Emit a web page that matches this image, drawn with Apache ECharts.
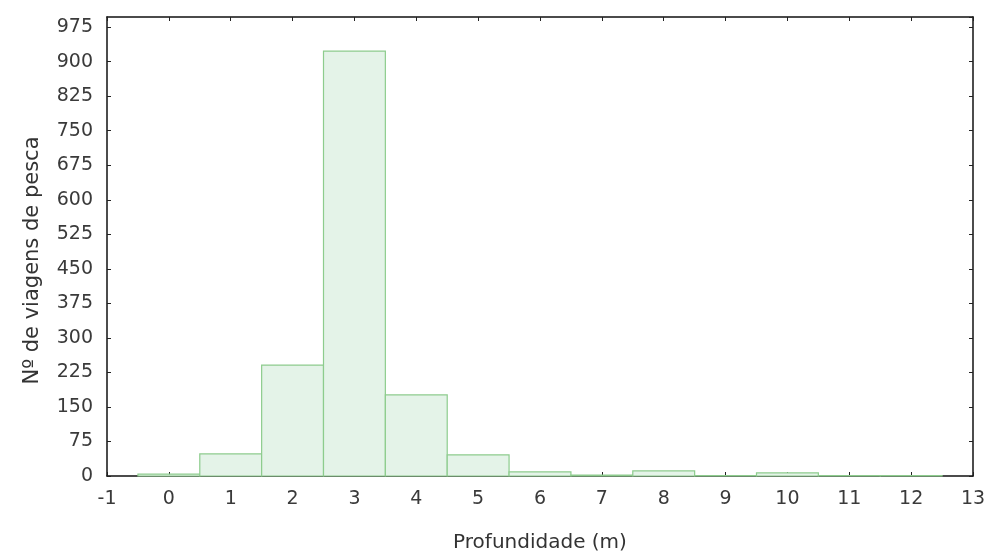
<!DOCTYPE html>
<html>
<head>
<meta charset="utf-8">
<script src="https://cdn.jsdelivr.net/npm/echarts@6/dist/echarts.min.js"></script>
<style>html,body{margin:0;padding:0;background:#fff}#c{width:988px;height:558px}</style>
</head>
<body>
<div id="c"></div>
<script>
const depths = [0, 1, 2, 3, 4, 5, 6, 7, 8, 9, 10, 11, 12];
const trips = [4, 48, 241, 923, 176, 46, 9, 2, 11, 1, 7, 1, 1];
const xTicks = [-1, 0, 1, 2, 3, 4, 5, 6, 7, 8, 9, 10, 11, 12, 13];
const yTicks = [0, 75, 150, 225, 300, 375, 450, 525, 600, 675, 750, 825, 900, 975];

const chart = echarts.init(document.getElementById('c'), null, {renderer: 'canvas'});
const labelStyle = {color: '#3a3a3a', fontFamily: 'DejaVu Sans', fontSize: 19};
chart.setOption({
  animation: false,
  backgroundColor: '#fff',
  grid: {left: 107, right: 15, top: 17, bottom: 82, containLabel: false, outerBoundsMode: 'none'},
  xAxis: [{
    type: 'value', min: xTicks[0], max: xTicks[xTicks.length - 1], interval: 1,
    name: 'Profundidade (m)', nameLocation: 'middle', nameGap: 57,
    nameTextStyle: {color: '#333', fontFamily: 'DejaVu Sans', fontSize: 20},
    axisLine: {onZero: false, lineStyle: {color: '#111', width: 1.5}},
    axisTick: {inside: true, length: 4, lineStyle: {color: '#222'}},
    axisLabel: Object.assign({margin: 14}, labelStyle),
    splitLine: {show: false}
  }, {
    type: 'value', position: 'top', min: xTicks[0], max: xTicks[xTicks.length - 1], interval: 1,
    axisLine: {show: true, onZero: false, lineStyle: {color: '#111', width: 1.5}},
    axisTick: {inside: true, length: 4, lineStyle: {color: '#222'}},
    axisLabel: {show: false}, splitLine: {show: false}
  }],
  yAxis: [{
    type: 'value', min: 0, max: 997, interval: 75,
    name: 'Nº de viagens de pesca', nameLocation: 'middle', nameGap: 64,
    nameTextStyle: {color: '#333', fontFamily: 'DejaVu Sans', fontSize: 21, padding: [0, 28, 0, 0]},
    axisLine: {show: true, onZero: false, lineStyle: {color: '#111', width: 1.5}},
    axisTick: {inside: true, length: 4, lineStyle: {color: '#222'}},
    axisLabel: Object.assign({margin: 14, showMaxLabel: false}, labelStyle),
    splitLine: {show: false}
  }, {
    type: 'value', position: 'right', min: 0, max: 997, interval: 75,
    axisLine: {show: true, onZero: false, lineStyle: {color: '#111', width: 1.5}},
    axisTick: {inside: true, length: 4, lineStyle: {color: '#222'}},
    axisLabel: {show: false}, splitLine: {show: false}
  }],
  series: [{
    type: 'custom',
    data: depths.map((d, i) => [d, trips[i]]),
    renderItem: function (params, api) {
      const x = api.value(0), y = api.value(1);
      const p0 = api.coord([x - 0.5, 0]);
      const p1 = api.coord([x + 0.5, y]);
      return {
        type: 'rect',
        shape: {x: p0[0], y: p1[1], width: p1[0] - p0[0], height: p0[1] - p1[1]},
        style: {fill: '#e4f3e8', stroke: '#8dcc8d', lineWidth: 1.2}
      };
    }
  }]
});
</script>
</body>
</html>
